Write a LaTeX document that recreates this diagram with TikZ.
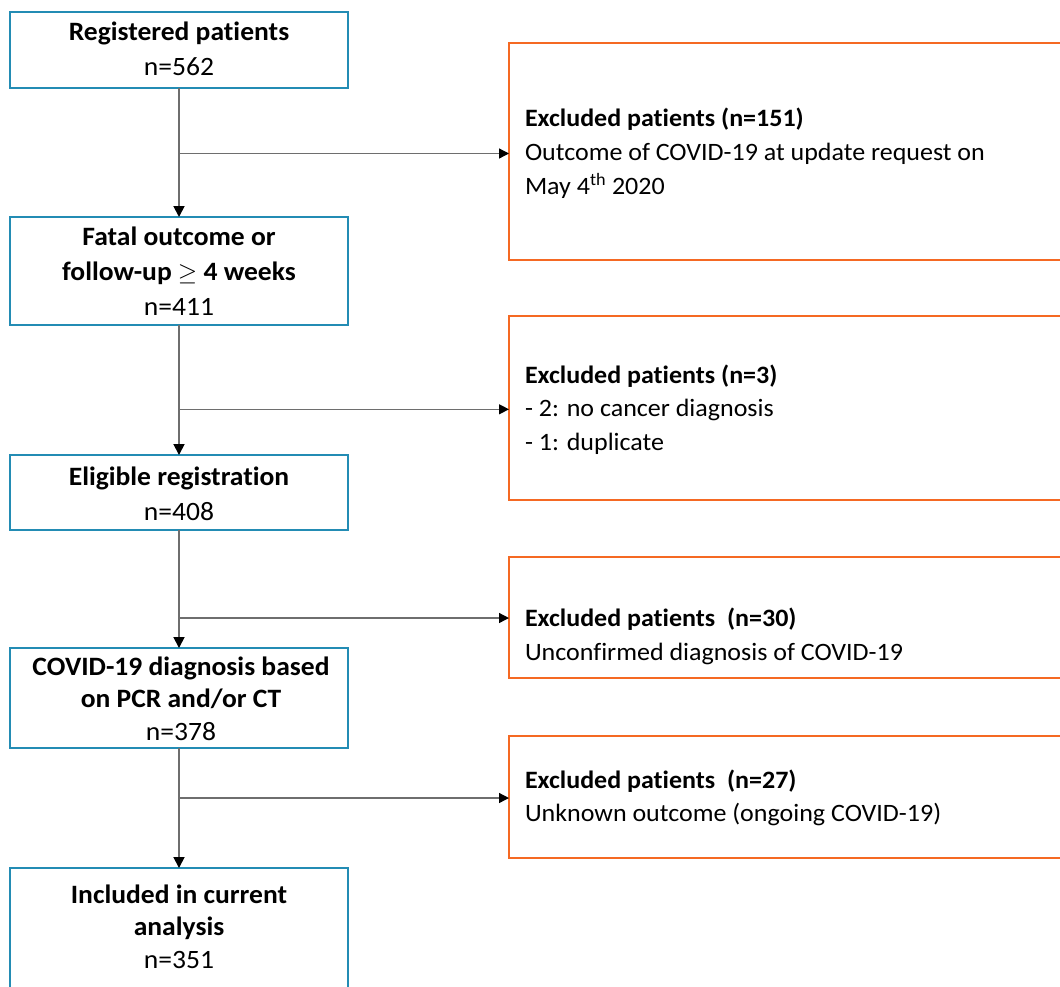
\documentclass[tikz,border=0pt]{standalone}
\usepackage{fontspec}
\setmainfont{Carlito}[FakeStretch=1.04,Ligatures=NoCommon]
\usetikzlibrary{arrows.meta}
\definecolor{boxblue}{RGB}{35,140,180}
\definecolor{boxorange}{RGB}{245,105,35}
\definecolor{linegray}{RGB}{110,110,110}
\newcommand{\ctxt}[1]{\begin{tabular}[t]{@{}c@{}}#1\end{tabular}}
\newcommand{\ltxt}[1]{\begin{tabular}[t]{@{}l@{}}#1\end{tabular}}
\begin{document}
\begin{tikzpicture}[x=1pt,y=-1pt,
  mainbox/.style={draw=boxblue, line width=2pt, inner sep=0pt, outer sep=0pt, minimum width=338pt},
  exbox/.style={draw=boxorange, line width=2pt, inner sep=0pt, outer sep=0pt, minimum width=571pt},
  flow/.style={draw=linegray, line width=1.8pt, -{Triangle[length=11pt,width=11pt,color=black]}},
  branch/.style={draw=linegray, line width=1.3pt, -{Triangle[length=10pt,width=10pt,color=black]}},
  lbl/.style={inner sep=0pt, outer sep=0pt, text=black},
  lsp/.style={font=\fontsize{25}{#1}\selectfont},
  lspm/.style={font=\fontsize{26.5}{#1}\selectfont},
]
\clip (0,0) rectangle (1060,986);
\useasboundingbox (0,0) rectangle (1060,986);

% main boxes
\node[mainbox, minimum height=76pt]  (b1) at (179,50) {};
\node[mainbox, minimum height=108pt] (b2) at (179,271) {};
\node[mainbox, minimum height=75pt]  (b3) at (179,492.5) {};
\node[mainbox, minimum height=100pt] (b4) at (179,698) {};
\node[mainbox, minimum height=132pt] (b5) at (179,934) {};

% exclusion boxes
\node[exbox, minimum height=217pt] (e1) at (794.5,151.5) {};
\node[exbox, minimum height=184pt] (e2) at (794.5,408) {};
\node[exbox, minimum height=121pt] (e3) at (794.5,617.5) {};
\node[exbox, minimum height=122pt] (e4) at (794.5,797) {};

% texts of main boxes
\node[lbl, lspm=35.5, anchor=base] (t1) at (179,40)
  {\ctxt{\textbf{Registered patients}\\n=562}};
\node[lbl, lspm=35, anchor=base] (t2) at (179,245)
  {\ctxt{\textbf{Fatal outcome or}\\\textbf{follow-up $\geq$ 4 weeks}\\n=411}};
\node[lbl, lspm=35, anchor=base] (t3) at (179,485)
  {\ctxt{\textbf{Eligible registration}\\n=408}};
\node[lbl, lspm=32.5, anchor=base] (t4) at (181,675)
  {\ctxt{\textbf{COVID-19 diagnosis based}\\\textbf{on PCR and/or CT}\\n=378}};
\node[lbl, lspm=32.5, anchor=base] (t5) at (179,903)
  {\ctxt{\textbf{Included in current}\\\textbf{analysis}\\n=351}};

% texts of exclusion boxes
\node[lbl, lsp=34, anchor=base west] (r1) at (525,126.7)
  {\ltxt{\textbf{Excluded patients (n=151)}\\Outcome of COVID-19 at update request on\\May 4\textsuperscript{th} 2020}};
\node[lbl, lsp=33.5, anchor=base west] (r2) at (525,383)
  {\ltxt{\textbf{Excluded patients (n=3)}\\- 2: no cancer diagnosis\\- 1: duplicate}};
\node[lbl, lsp=33.3, anchor=base west] (r3) at (525,626.7)
  {\ltxt{\textbf{Excluded patients\ \ (n=30)}\\Unconfirmed diagnosis of COVID-19}};
\node[lbl, lsp=33.4, anchor=base west] (r4) at (525,788.3)
  {\ltxt{\textbf{Excluded patients\ \ (n=27)}\\Unknown outcome (ongoing COVID-19)}};

% branch points
\coordinate (c1) at (179,153.5);
\coordinate (c2) at (179,409.3);
\coordinate (c3) at (179,618);
\coordinate (c4) at (179,798);

% connectors
\draw[flow] (b1.south) -- (b2.north);
\draw[flow] (b2.south) -- (b3.north);
\draw[flow] (b3.south) -- (b4.north);
\draw[flow] (b4.south) -- (b5.north);
\draw[branch] (c1) -- (c1 -| e1.west);
\draw[branch] (c2) -- (c2 -| e2.west);
\draw[branch] (c3) -- (c3 -| e3.west);
\draw[branch] (c4) -- (c4 -| e4.west);
\end{tikzpicture}
\end{document}
